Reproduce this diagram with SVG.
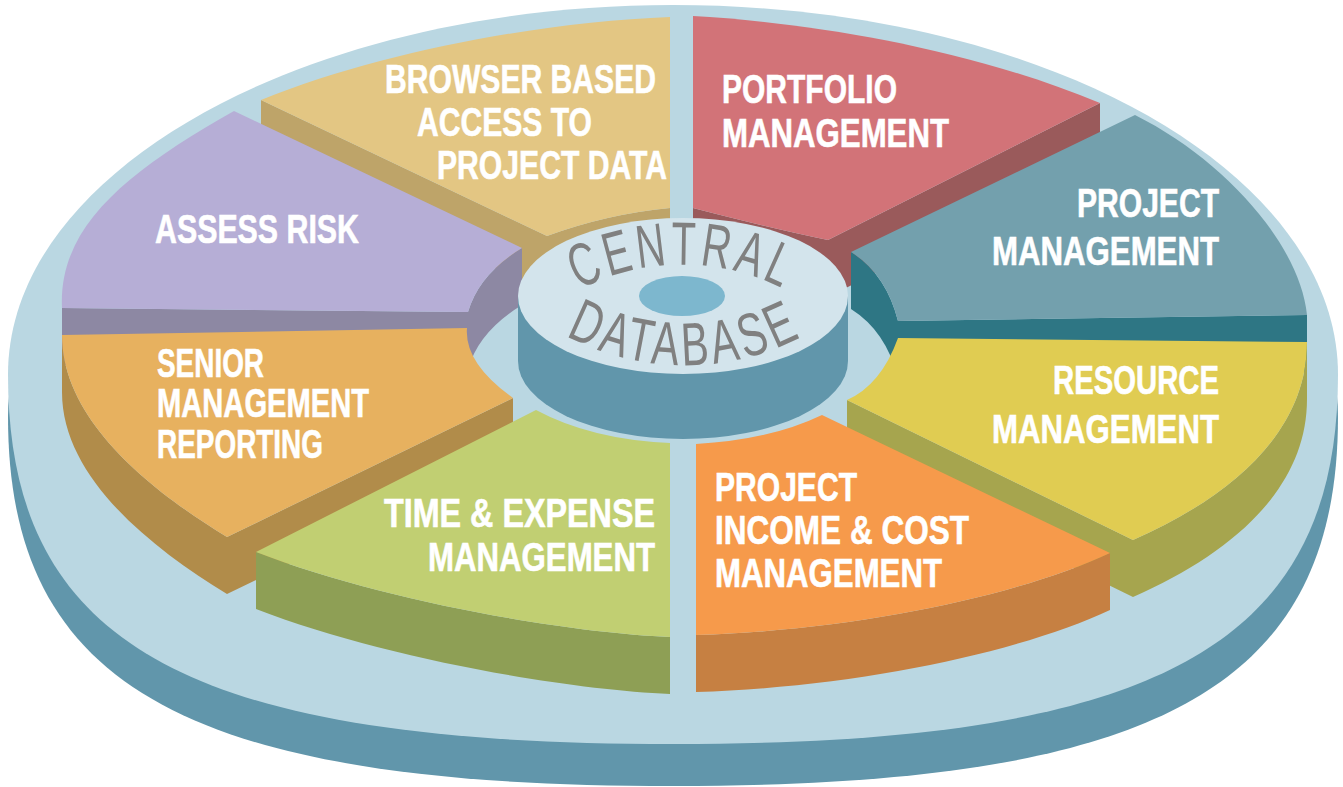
<svg xmlns="http://www.w3.org/2000/svg" width="1343" height="787" viewBox="0 0 1343 787">
<defs>
<path id="disk" d="M 8 374.5 C 8 170.4 305.7 5 673 5 C 1040.3 5 1338 170.4 1338 374.5 C 1338 644.6 1159.1 744 673 744 C 186.9 744 8 644.6 8 374.5 Z"/>
<path id="arcTop" d="M 538 317 A 224 224 0 0 1 826 317"/>
<path id="arcBot" d="M 522 306 A 254 254 0 0 0 848 306"/>
</defs>
<style>
.lbl{font-family:"Liberation Sans",Arial,sans-serif;font-weight:bold;font-size:40px;fill:#ffffff;stroke:#ffffff;stroke-width:0.6px}
.db{font-family:"Liberation Sans",Arial,sans-serif;font-weight:normal;font-size:61px;letter-spacing:6px;fill:#808080}
</style>
<rect width="1343" height="787" fill="#ffffff"/>
<g id="base">
<use href="#disk" y="42" fill="#6196ab"/>
<use href="#disk" fill="#bad7e2"/>
</g>
<g id="browser">
<path d="M 261 100 L 547 236 Q 607 214 670 208 L 670 265 Q 607 271 547 293 L 261 157 Z" fill="#bea469"/>
<path d="M 261 100 C 380 52 540 22 670 17 L 670 208 Q 607 214 547 236 Z" fill="#e3c683"/>
<text class="lbl" x="385" y="93" textLength="271" lengthAdjust="spacingAndGlyphs">BROWSER BASED</text>
<text class="lbl" x="417" y="136" textLength="175" lengthAdjust="spacingAndGlyphs">ACCESS TO</text>
<text class="lbl" x="437" y="179" textLength="230" lengthAdjust="spacingAndGlyphs">PROJECT DATA</text>
</g>
<g id="portfolio">
<path d="M 693 208 Q 770 228 828 240 L 1100 103 L 1100 160 L 828 297 Q 770 285 693 265 Z" fill="#9a5a5b"/>
<path d="M 693 16 C 800 22 960 45 1100 103 L 828 240 Q 770 228 693 208 Z" fill="#d27378"/>
<text class="lbl" x="722" y="103" textLength="175" lengthAdjust="spacingAndGlyphs">PORTFOLIO</text>
<text class="lbl" x="722" y="147" textLength="227" lengthAdjust="spacingAndGlyphs">MANAGEMENT</text>
</g>
<g id="assess-risk">
<path d="M 62 308 L 468 312 Q 479 274 522 248 L 522 305 Q 479 331 468 369 L 62 365 Z" fill="#8d88a3"/>
<path d="M 234 111 L 522 248 Q 479 274 468 312 L 62 308 C 58 225 130 170 234 111 Z" fill="#b6aed6"/>
<text class="lbl" x="155" y="243" textLength="204" lengthAdjust="spacingAndGlyphs">ASSESS RISK</text>
</g>
<g id="project-management">
<path d="M 851 252 Q 886 274 898 321 L 1307 315 L 1307 372 L 898 378 Q 886 331 851 309 Z" fill="#2e7684"/>
<path d="M 1135 115 C 1225 160 1300 245 1307 315 L 898 321 Q 886 274 851 252 Z" fill="#73a0ad"/>
<text class="lbl" x="1077" y="217" textLength="142" lengthAdjust="spacingAndGlyphs">PROJECT</text>
<text class="lbl" x="992" y="265" textLength="227" lengthAdjust="spacingAndGlyphs">MANAGEMENT</text>
</g>
<g id="central-database">
<path d="M 518 296 L 518 361 A 165 78 0 0 0 848 361 L 848 296 Z" fill="#6196ab"/>
<ellipse cx="683" cy="296" rx="165" ry="78" fill="#d3e4ec"/>
<ellipse cx="682" cy="296" rx="43" ry="20" fill="#7db7ce"/>
<text class="db"><textPath href="#arcTop" startOffset="50%" text-anchor="middle" textLength="214" lengthAdjust="spacingAndGlyphs">CENTRAL</textPath></text>
<text class="db"><textPath href="#arcBot" startOffset="50%" text-anchor="middle" textLength="248" lengthAdjust="spacingAndGlyphs">DATABASE</textPath></text>
</g>
<g id="senior-management-reporting">
<path d="M 62 335 C 62 420 150 490 227 537 L 513 398 L 513 455 L 227 594 C 150 547 62 477 62 392 Z" fill="#b18c4a"/>
<path d="M 62 335 L 467 328 Q 464 363 513 398 L 227 537 C 150 490 62 420 62 335 Z" fill="#e7b15f"/>
<text class="lbl" x="157" y="377" textLength="107" lengthAdjust="spacingAndGlyphs">SENIOR</text>
<text class="lbl" x="157" y="417" textLength="212" lengthAdjust="spacingAndGlyphs">MANAGEMENT</text>
<text class="lbl" x="157" y="458" textLength="166" lengthAdjust="spacingAndGlyphs">REPORTING</text>
</g>
<g id="resource-management">
<path d="M 847 400 L 1133 540 C 1235 495 1307 430 1307 342 L 1307 399 C 1307 487 1235 552 1133 597 L 847 457 Z" fill="#a6a54e"/>
<path d="M 898 338 L 1307 342 C 1307 430 1235 495 1133 540 L 847 400 Q 881 385 898 338 Z" fill="#e0cc52"/>
<text class="lbl" x="1053" y="394" textLength="166" lengthAdjust="spacingAndGlyphs">RESOURCE</text>
<text class="lbl" x="992" y="443" textLength="227" lengthAdjust="spacingAndGlyphs">MANAGEMENT</text>
</g>
<g id="time-expense-management">
<path d="M 256 552 C 380 600 560 632 670 637 L 670 694 C 560 689 380 657 256 609 Z" fill="#8e9f55"/>
<path d="M 256 552 L 536 410 Q 591 439.5 670 443 L 670 637 C 560 632 380 600 256 552 Z" fill="#c1cf72"/>
<text class="lbl" x="384" y="527" textLength="271" lengthAdjust="spacingAndGlyphs">TIME &amp; EXPENSE</text>
<text class="lbl" x="428" y="571" textLength="227" lengthAdjust="spacingAndGlyphs">MANAGEMENT</text>
</g>
<g id="project-income-cost-management">
<path d="M 696 635 C 860 630 1020 595 1110 553 L 1110 610 C 1020 652 860 687 696 692 Z" fill="#c68042"/>
<path d="M 696 444 Q 770 440 822 415 L 1110 553 C 1020 595 860 630 696 635 Z" fill="#f69a4b"/>
<text class="lbl" x="715" y="501" textLength="142" lengthAdjust="spacingAndGlyphs">PROJECT</text>
<text class="lbl" x="715" y="544" textLength="254" lengthAdjust="spacingAndGlyphs">INCOME &amp; COST</text>
<text class="lbl" x="715" y="587" textLength="227" lengthAdjust="spacingAndGlyphs">MANAGEMENT</text>
</g>
</svg>
